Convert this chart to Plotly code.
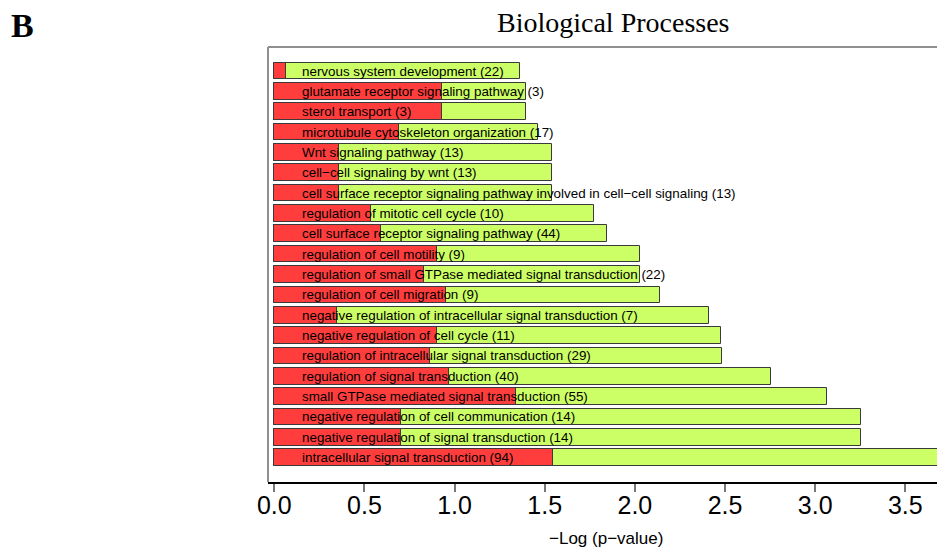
import plotly.graph_objects as go

# GO terms (top to bottom) with gene counts
terms = [
    "nervous system development (22)",
    "glutamate receptor signaling pathway (3)",
    "sterol transport (3)",
    "microtubule cytoskeleton organization (17)",
    "Wnt signaling pathway (13)",
    "cell\u2212cell signaling by wnt (13)",
    "cell surface receptor signaling pathway involved in cell\u2212cell signaling (13)",
    "regulation of mitotic cell cycle (10)",
    "cell surface receptor signaling pathway (44)",
    "regulation of cell motility (9)",
    "regulation of small GTPase mediated signal transduction (22)",
    "regulation of cell migration (9)",
    "negative regulation of intracellular signal transduction (7)",
    "negative regulation of cell cycle (11)",
    "regulation of intracellular signal transduction (29)",
    "regulation of signal transduction (40)",
    "small GTPase mediated signal transduction (55)",
    "negative regulation of cell communication (14)",
    "negative regulation of signal transduction (14)",
    "intracellular signal transduction (94)",
]

# -log10(p-value) per term (green bars)
neg_log_p = [1.364, 1.394, 1.394, 1.464, 1.542, 1.542, 1.542, 1.773, 1.844, 2.028,
             2.028, 2.141, 2.409, 2.476, 2.485, 2.755, 3.064, 3.253, 3.253, 3.90]

# overlaid inner bar per term (red bars)
inner_bar = [0.063, 0.932, 0.932, 0.690, 0.357, 0.357, 0.357, 0.535, 0.590, 0.901,
             0.830, 0.952, 0.349, 0.901, 0.864, 0.969, 1.341, 0.701, 0.701, 1.548]

x_ticks = [0.0, 0.5, 1.0, 1.5, 2.0, 2.5, 3.0, 3.5]

W, H = 937, 550
L, R, T, B = 268, 0, 47, 68
pw, ph = W - L - R, H - T - B


def px_to_paper(px, py):
    """Pixel position in the page -> paper coordinates of the plot area."""
    return (px - L) / pw, (H - B - py) / ph


positions = list(range(len(terms)))
bar_w = 0.82
edge = dict(color="#3a3a3a", width=1)

fig = go.Figure()
fig.add_trace(go.Bar(x=neg_log_p, y=positions, orientation="h", width=bar_w,
                     marker=dict(color="#CCFF66", line=edge), hoverinfo="x"))
fig.add_trace(go.Bar(x=inner_bar, y=positions, orientation="h", width=bar_w,
                     marker=dict(color="#FF3D3D", line=edge), hoverinfo="x"))

# term labels drawn over the bars
for pos, term in zip(positions, terms):
    fig.add_annotation(x=0.14, y=pos, xref="x", yref="y", text=term,
                       showarrow=False, xanchor="left", yanchor="middle",
                       font=dict(family="Liberation Sans, Arial", size=13.4, color="black"))

# panel letter
bx, by = px_to_paper(22, 26)
fig.add_annotation(x=bx, y=by, xref="paper", yref="paper", text="<b>B</b>",
                   showarrow=False, xanchor="center", yanchor="middle",
                   font=dict(family="Liberation Serif, Times New Roman", size=34, color="black"))

# title
tx, ty = px_to_paper(613, 23)
fig.add_annotation(x=tx, y=ty, xref="paper", yref="paper", text="Biological Processes",
                   showarrow=False, xanchor="center", yanchor="middle",
                   font=dict(family="Liberation Serif, Times New Roman", size=28, color="black"))

# x-axis title
ax, ay = px_to_paper(606, 538)
fig.add_annotation(x=ax, y=ay, xref="paper", yref="paper", text="\u2212Log (p\u2212value)",
                   showarrow=False, xanchor="center", yanchor="middle",
                   font=dict(family="Liberation Sans, Arial", size=17, color="black"))

# frame (left + top) of the plotting region
fig.add_shape(type="line", xref="paper", yref="paper", x0=0, x1=0, y0=0, y1=1,
              line=dict(color="#8f8f8f", width=2))
fig.add_shape(type="line", xref="paper", yref="paper", x0=0, x1=1, y0=1, y1=1,
              line=dict(color="#8f8f8f", width=2))

px_per_unit = 180.29
x0_px = 274.3
fig.update_layout(
    width=W, height=H,
    margin=dict(l=L, r=R, t=T, b=B, pad=0),
    paper_bgcolor="white", plot_bgcolor="white",
    barmode="overlay", bargap=0, showlegend=False,
    xaxis=dict(range=[(L - x0_px) / px_per_unit, (W - x0_px) / px_per_unit],
               tickvals=x_ticks, ticktext=[f"{v:.1f}" for v in x_ticks],
               ticks="outside", ticklen=8, tickwidth=1.5, tickcolor="#777777",
               ticklabelstandoff=-8,
               showline=True, linecolor="black", linewidth=1.5,
               showgrid=False, zeroline=False,
               tickfont=dict(family="Liberation Sans, Arial", size=25, color="black")),
    yaxis=dict(range=[(H - B - 71) / 20.35, (T - 71) / 20.35],
               showticklabels=False, ticks="", showgrid=False, zeroline=False,
               showline=False),
)

fig.write_html("out.html")
